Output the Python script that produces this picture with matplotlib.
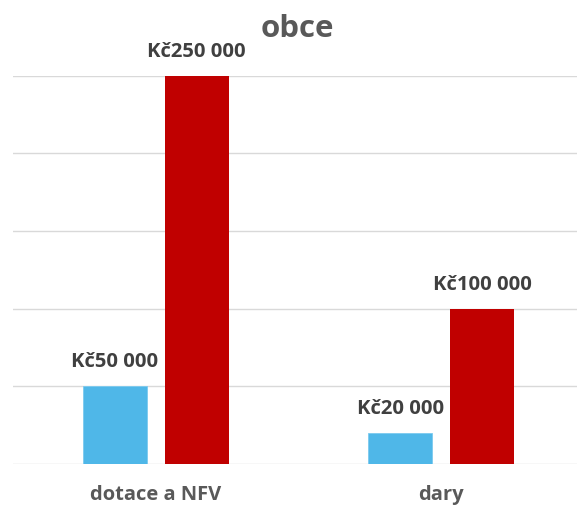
import numpy as np
import matplotlib.pyplot as plt

plt.rcParams['font.family'] = ['Open Sans', 'DejaVu Sans']

# data
categories = ['dotace a NFV', 'dary']
series_blue = [50000, 20000]
series_red = [250000, 100000]
title = 'obce'


def kc(v):
    return 'Kč' + format(v, ',').replace(',', ' ')


W, H = 577, 507
fig = plt.figure(figsize=(W / 100, H / 100), dpi=100)
# plot area runs a bit past the right edge, like the cropped original
left, right = 12.75, 584
bottom, top = 464, 75.5
ax = fig.add_axes([left / W, (H - bottom) / H, (right - left) / W, (bottom - top) / H])

x = np.arange(len(categories))
w = 0.224
off = 0.1435
b1 = ax.bar(x - off, series_blue, w, color='#4FB7E8', edgecolor='#7ccaef', linewidth=0.6, zorder=3)
b2 = ax.bar(x + off, series_red, w, color='#C00000', zorder=3)

for bars, vals in ((b1, series_blue), (b2, series_red)):
    for r, v in zip(bars, vals):
        ax.annotate(kc(v), (r.get_x() + r.get_width() / 2, v), xytext=(0, 24),
                    textcoords='offset pixels', ha='center', va='center',
                    fontsize=14.6, fontweight='bold', color='#404040')

ax.set_xlim(-0.5, 1.5)
ax.set_ylim(0, 250000)
ax.set_yticks(np.arange(0, 250001, 50000))
ax.yaxis.grid(True, color='#d9d9d9', linewidth=1.0, zorder=0)
ax.tick_params(axis='y', length=0, labelleft=False)
ax.set_xticks(x)
ax.set_xticklabels(categories, fontsize=14.5, fontweight='bold', color='#595959')
ax.tick_params(axis='x', length=0, pad=15)
for s in ax.spines.values():
    s.set_visible(False)

fig.text(297 / W, 1 - 29 / H, title, ha='center', va='center',
         fontsize=22.5, fontweight='bold', color='#595959')

fig.savefig('out.png', dpi=100)
